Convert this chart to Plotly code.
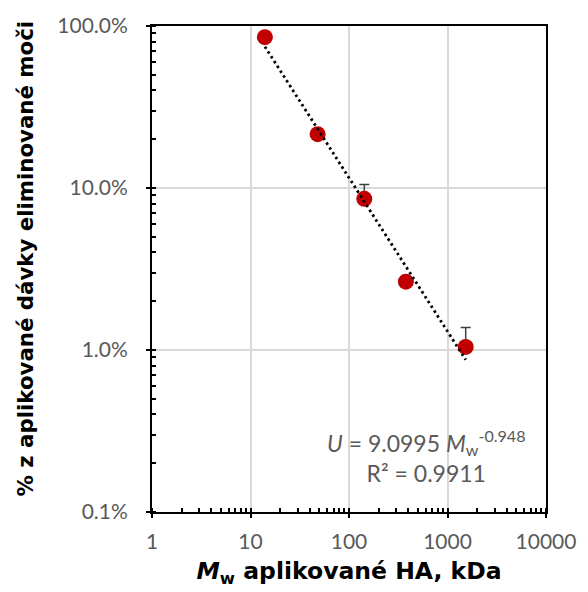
import plotly.graph_objects as go

# Data
mw_kda = [14, 48, 143, 378, 1530]
urine_frac = [0.853, 0.215, 0.0857, 0.0264, 0.01045]
err_plus = [0.0, 0.0, 0.0195, 0.0, 0.0033]

# Power-law fit shown on the chart: U = a * Mw^b
fit_a = 9.0995
fit_b = -0.948
fit_x = [min(mw_kda), max(mw_kda)]
fit_y = [fit_a * x ** fit_b for x in fit_x]

x_ticks = [1, 10, 100, 1000, 10000]
y_ticks = [0.001, 0.01, 0.1, 1.0]
y_ticktext = ["0.1%", "1.0%", "10.0%", "100.0%"]

TICK_FONT = dict(family="Lato", size=21, color="#595959")

fig = go.Figure()

fig.add_trace(go.Scatter(
    x=mw_kda, y=urine_frac, mode="markers",
    marker=dict(color="#C00000", size=16),
    error_y=dict(type="data", array=err_plus, arrayminus=[0] * len(err_plus),
                 symmetric=False, color="#404040", thickness=1.5, width=5),
    showlegend=False,
))

fig.add_trace(go.Scatter(
    x=fit_x, y=fit_y, mode="lines",
    line=dict(color="black", width=2.8, dash="2.5px,3.2px"),
    showlegend=False,
))

# overlay axes for the inner half of the crossing major ticks
fig.add_trace(go.Scatter(x=[], y=[], xaxis="x2", yaxis="y2", showlegend=False))

fig.update_layout(
    width=588, height=592,
    margin=dict(l=152, r=36, t=23, b=80),
    paper_bgcolor="white", plot_bgcolor="white",
    xaxis=dict(
        type="log", range=[0, 4],
        tickvals=x_ticks, ticktext=[str(v) for v in x_ticks],
        tickfont=TICK_FONT, ticklabelstandoff=6,
        ticks="outside", ticklen=4, tickwidth=1.5, tickcolor="black",
        showline=True, linecolor="black", linewidth=2, mirror=True,
        showgrid=True, gridcolor="#d9d9d9", gridwidth=1.5,
        zeroline=False,
        minor=dict(ticks="inside", ticklen=4, tickwidth=1.5, tickcolor="black",
                   dtick="D1", showgrid=False),
        title=dict(text="<b><i>M</i><sub>w</sub> aplikované HA, kDa</b>",
                   font=dict(family="DejaVu Sans", size=23.5, color="black"),
                   standoff=10),
    ),
    yaxis=dict(
        type="log", range=[-3, 0],
        tickvals=y_ticks, ticktext=y_ticktext,
        tickfont=TICK_FONT, ticklabelstandoff=14,
        ticks="outside", ticklen=4, tickwidth=1.5, tickcolor="black",
        showline=True, linecolor="black", linewidth=2, mirror=True,
        showgrid=True, gridcolor="#d9d9d9", gridwidth=1.5,
        zeroline=False,
        minor=dict(ticks="inside", ticklen=4, tickwidth=1.5, tickcolor="black",
                   dtick="D1", showgrid=False),
    ),
    xaxis2=dict(type="log", range=[0, 4], overlaying="x", anchor="y2",
                tickvals=x_ticks, showticklabels=False,
                ticks="inside", ticklen=4, tickwidth=1.5, tickcolor="black",
                showgrid=False, zeroline=False, showline=False),
    yaxis2=dict(type="log", range=[-3, 0], overlaying="y", anchor="x2",
                tickvals=y_ticks, showticklabels=False,
                ticks="inside", ticklen=4, tickwidth=1.5, tickcolor="black",
                showgrid=False, zeroline=False, showline=False),
    annotations=[
        dict(
            x=2.79, y=-2.66, xref="x", yref="y",
            text="<i>U</i> = 9.0995 <i>M</i><sub>w</sub><sup>-0.948</sup><br>R² = 0.9911",
            showarrow=False, align="center",
            font=dict(family="Lato", size=23, color="#595959"),
        ),
        dict(
            x=-128 / 400, y=(512 - 257) / 489, xref="paper", yref="paper",
            xanchor="center", yanchor="middle", textangle=-90,
            text="<b>% z aplikované dávky eliminované moči</b>",
            showarrow=False,
            font=dict(family="DejaVu Sans", size=21.3, color="black"),
        ),
    ],
)

fig.write_html("out.html", post_script="document.body.style.margin='0';",
               config={"displayModeBar": False})
